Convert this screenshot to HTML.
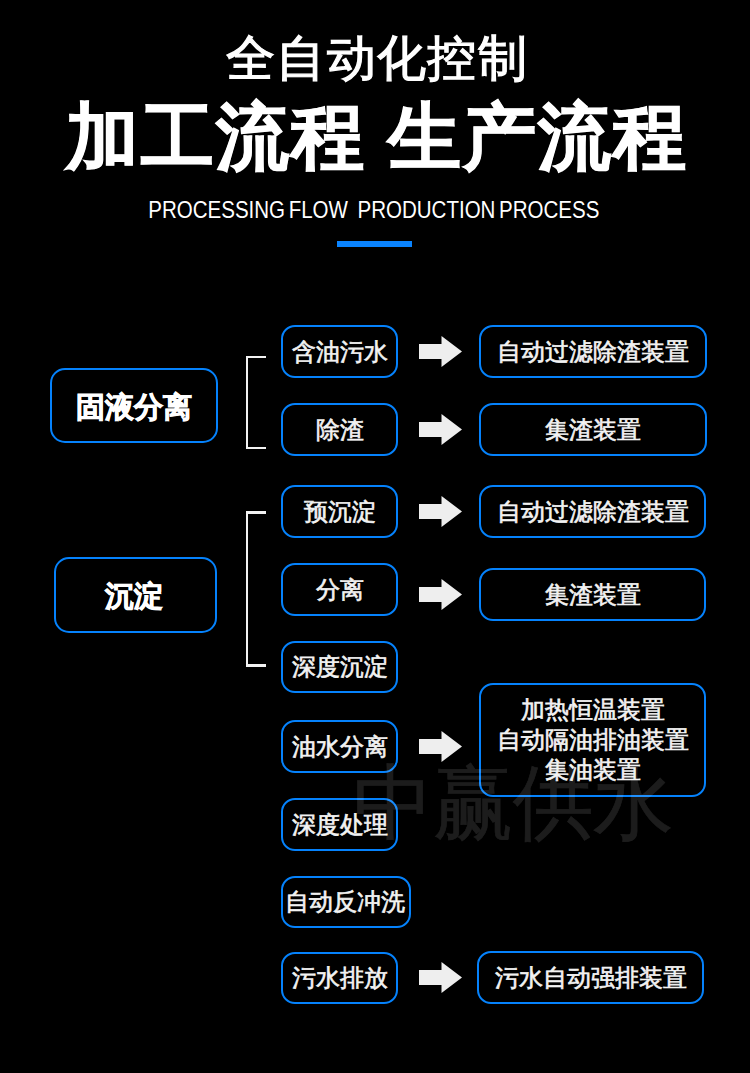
<!DOCTYPE html>
<html><head><meta charset="utf-8">
<style>
html,body{margin:0;padding:0;}
body{width:750px;height:1073px;background:#000;position:relative;overflow:hidden;font-family:"Liberation Sans",sans-serif;color:#fff;}
.abs{position:absolute;}
.t1{left:2px;width:750px;top:23px;text-align:center;font-size:49px;font-weight:400;letter-spacing:1.4px;line-height:70px;-webkit-text-stroke:1.2px #fff;}
.t2{left:2px;width:750px;top:89px;text-align:center;font-size:73px;font-weight:700;line-height:96px;letter-spacing:2px;-webkit-text-stroke:1px #fff;}
.t3{left:-1px;width:750px;top:196px;text-align:center;font-size:24px;line-height:28px;}
.t3 span{display:inline-block;word-spacing:-2.5px;transform:scaleX(0.855);transform-origin:50% 50%;}
.bar{left:337px;top:241px;width:75px;height:6px;background:#0a84ff;}
.box{position:absolute;box-sizing:border-box;border:2px solid #0582fc;border-radius:14px;display:flex;align-items:center;justify-content:center;font-size:23.5px;font-weight:400;color:#f2f2f2;white-space:nowrap;-webkit-text-stroke:0.65px #f2f2f2;}
.big{font-size:28.5px;font-weight:700;border-radius:15px;-webkit-text-stroke:0.8px #fff;color:#fff;padding-top:4px;}
.ln{position:absolute;background:#f2f2f2;}
.arr{position:absolute;left:419px;width:43px;height:31px;}
.wm{left:353px;top:747px;font-size:80px;font-weight:400;color:#fff;opacity:0.11;line-height:110px;-webkit-text-stroke:0.6px #fff;transform:scaleY(1.02);transform-origin:0 0;}
</style></head>
<body>
<div class="abs t1">全自动化控制</div>
<div class="abs t2">加工流程 生产流程</div>
<div class="abs t3"><span>PROCESSING FLOW<span style="display:inline-block;width:7px"></span> PRODUCTION PROCESS</span></div>
<div class="abs bar"></div>

<div class="box big" style="left:50px;top:368px;width:168px;height:75px;">固液分离</div>
<div class="box big" style="left:54px;top:557px;width:163px;height:76px;padding-right:3px;">沉淀</div>

<div class="ln" style="left:246px;top:356px;width:2px;height:93px;"></div>
<div class="ln" style="left:246px;top:356px;width:20px;height:2px;"></div>
<div class="ln" style="left:246px;top:447px;width:20px;height:2px;"></div>
<div class="ln" style="left:246px;top:511px;width:2px;height:156px;"></div>
<div class="ln" style="left:246px;top:511px;width:20px;height:2.5px;"></div>
<div class="ln" style="left:246px;top:664px;width:20px;height:2.5px;"></div>
<div class="box" style="left:281px;top:325px;width:117px;height:53px;">含油污水</div>
<div class="box" style="left:281px;top:403px;width:117px;height:53px;">除渣</div>
<div class="box" style="left:281px;top:485px;width:117px;height:53px;">预沉淀</div>
<div class="box" style="left:281px;top:563px;width:117px;height:53px;">分离</div>
<div class="box" style="left:281px;top:641px;width:117px;height:52px;">深度沉淀</div>
<div class="box" style="left:281px;top:720px;width:117px;height:53px;">油水分离</div>
<div class="box" style="left:281px;top:798px;width:117px;height:53px;">深度处理</div>
<div class="box" style="left:281px;top:876px;width:130px;height:52px;padding-right:3px;">自动反冲洗</div>
<div class="box" style="left:281px;top:952px;width:117px;height:52px;">污水排放</div>
<div class="box" style="left:479px;top:325px;width:228px;height:53px;">自动过滤除渣装置</div>
<div class="box" style="left:479px;top:403px;width:228px;height:53px;">集渣装置</div>
<div class="box" style="left:479px;top:485px;width:227px;height:53px;">自动过滤除渣装置</div>
<div class="box" style="left:479px;top:568px;width:227px;height:53px;">集渣装置</div>
<div class="box" style="left:477px;top:951px;width:227px;height:53px;">污水自动强排装置</div>
<div class="box" style="left:479px;top:683px;width:227px;height:114px;line-height:30px;text-align:center;">加热恒温装置<br>自动隔油排油装置<br>集油装置</div>
<svg class="arr" style="top:336px" viewBox="0 0 43 31"><path d="M0 8H22.5V0L43 15.5L22.5 31V23H0Z" fill="#eee"/></svg>
<svg class="arr" style="top:414px" viewBox="0 0 43 31"><path d="M0 8H22.5V0L43 15.5L22.5 31V23H0Z" fill="#eee"/></svg>
<svg class="arr" style="top:496px" viewBox="0 0 43 31"><path d="M0 8H22.5V0L43 15.5L22.5 31V23H0Z" fill="#eee"/></svg>
<svg class="arr" style="top:579px" viewBox="0 0 43 31"><path d="M0 8H22.5V0L43 15.5L22.5 31V23H0Z" fill="#eee"/></svg>
<svg class="arr" style="top:731px" viewBox="0 0 43 31"><path d="M0 8H22.5V0L43 15.5L22.5 31V23H0Z" fill="#eee"/></svg>
<svg class="arr" style="top:962px" viewBox="0 0 43 31"><path d="M0 8H22.5V0L43 15.5L22.5 31V23H0Z" fill="#eee"/></svg>
<div class="abs wm">中赢供水</div>
</body></html>
